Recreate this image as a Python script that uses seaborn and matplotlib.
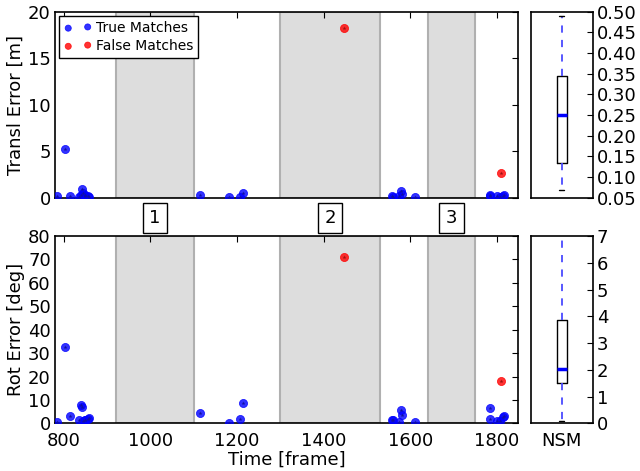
import numpy as np
import pandas as pd
import matplotlib
matplotlib.use("Agg")
import matplotlib.pyplot as plt
import matplotlib.transforms as mtrans
import seaborn as sns

sns.set_style("white")
plt.rcParams['font.family'] = ['DejaVu Sans']
plt.rcParams['text.color'] = 'black'
plt.rcParams['axes.labelcolor'] = 'black'
plt.rcParams['xtick.color'] = 'black'
plt.rcParams['ytick.color'] = 'black'

# true matches: frame, translation error [m], rotation error [deg]
true_time = [785, 802, 815, 835, 840, 843, 845, 848, 850, 855, 858,
             1115, 1181, 1208, 1213,
             1557, 1561, 1575, 1579, 1580, 1611,
             1783, 1785, 1800, 1807, 1814, 1817]
true_transl = [0.2, 5.2, 0.15, 0.1, 0.3, 0.93, 0.55, 0.2, 0.35, 0.15, 0.1,
               0.25, 0.1, 0.05, 0.47,
               0.15, 0.1, 0.2, 0.75, 0.4, 0.1,
               0.15, 0.3, 0.15, 0.1, 0.2, 0.25]
true_rot = [0.4, 32.7, 3.1, 1.4, 7.9, 6.8, 1.0, 1.3, 1.5, 1.8, 2.3,
            4.5, 0.1, 1.7, 8.8,
            1.4, 1.6, 0.7, 5.7, 3.6, 0.7,
            1.8, 6.4, 1.1, 1.1, 2.8, 3.2]

# false matches
false_time = [1448, 1810]
false_transl = [18.3, 2.7]
false_rot = [71.2, 18.2]

# gray segments and their labels
seg_start = [920, 1300, 1640]
seg_end = [1100, 1530, 1750]
seg_labels = ["1", "2", "3"]

# NSM box summaries (translation, rotation)
nsm_transl = dict(whislo=0.07, q1=0.135, med=0.25, q3=0.345, whishi=0.49)
nsm_rot = dict(whislo=0.1, q1=1.5, med=2.05, q3=3.85, whishi=7.4)

df_true = pd.DataFrame({"time": true_time, "transl": true_transl, "rot": true_rot})
df_false = pd.DataFrame({"time": false_time, "transl": false_transl, "rot": false_rot})

fig = plt.figure(figsize=(6.4, 4.71), dpi=100)
ax1 = fig.add_axes([0.086, 0.580, 0.723, 0.395])
ax2 = fig.add_axes([0.086, 0.101, 0.723, 0.398])
bx1 = fig.add_axes([0.830, 0.580, 0.096, 0.395])
bx2 = fig.add_axes([0.830, 0.101, 0.096, 0.398])

fs = 13


def draw_scatter(ax, col, ylim, yticks, legend=False):
    for s, e in zip(seg_start, seg_end):
        ax.axvspan(s, e, facecolor="#dddddd", edgecolor="#b0b0b0", lw=1.5, zorder=0)
    sns.scatterplot(data=df_true, x="time", y=col, ax=ax, color="blue", s=34,
                    alpha=0.8, edgecolor="blue", linewidth=0.6,
                    label="True Matches" if legend else None, zorder=3)
    sns.scatterplot(data=df_false, x="time", y=col, ax=ax, color="red", s=34,
                    alpha=0.8, edgecolor="red", linewidth=0.6,
                    label="False Matches" if legend else None, zorder=3)
    sns.scatterplot(data=df_true, x="time", y=col, ax=ax, color="#1010a0", marker="*",
                    s=9, linewidth=0, legend=False, zorder=4)
    sns.scatterplot(data=df_false, x="time", y=col, ax=ax, color="#a01010", marker="*",
                    s=9, linewidth=0, legend=False, zorder=4)
    ax.set_xlim(780, 1848)
    ax.set_ylim(*ylim)
    ax.set_yticks(yticks)
    ax.set_xticks([800, 1000, 1200, 1400, 1600, 1800])
    ax.tick_params(direction="in", top=True, right=True, labelsize=fs,
                   length=4, width=0.8, pad=3)
    ax.tick_params(axis="x", pad=6)
    for sp in ax.spines.values():
        sp.set_color("black")
        sp.set_linewidth(1.2)


draw_scatter(ax1, "transl", (0, 20), [0, 5, 10, 15, 20], legend=True)
draw_scatter(ax2, "rot", (0, 80), range(0, 81, 10))

ax1.set_xlabel("")
ax1.set_xticklabels([])
ax1.set_ylabel("Transl Error [m]", fontsize=fs, labelpad=2)
ax2.set_ylabel("Rot Error [deg]", fontsize=fs, labelpad=2)
ax2.set_xlabel("Time [frame]", fontsize=fs, labelpad=1)

leg = ax1.legend(loc="upper left", fontsize=10, frameon=True, fancybox=False,
                 scatterpoints=2, handletextpad=0.3, borderpad=0.35,
                 labelspacing=0.3, borderaxespad=0.3, markerscale=0.75)
leg.get_frame().set_edgecolor("black")
leg.get_frame().set_linewidth(1.0)
leg.get_frame().set_alpha(1)

trans = mtrans.blended_transform_factory(ax1.transData, fig.transFigure)
for s, e, lab in zip(seg_start, seg_end, seg_labels):
    ax1.text((s + e) / 2, 1 - 218 / 471, lab, transform=trans, ha="center", va="center",
             fontsize=fs, clip_on=False,
             bbox=dict(boxstyle="square,pad=0.35", facecolor="white", edgecolor="black", lw=1.0))


def draw_box(ax, stats, ylim, yticks, fmt, label):
    st = dict(stats)
    st["fliers"] = []
    st["label"] = label
    ax.bxp([st], positions=[1], widths=0.17, showfliers=False,
           boxprops=dict(color="black", lw=1.0),
           medianprops=dict(color="blue", lw=2.5),
           whiskerprops=dict(color="#4a4aff", lw=1.3, linestyle=(0, (4, 4))),
           capprops=dict(color="black", lw=1.0), capwidths=0.08)
    ax.set_xlim(0.5, 1.5)
    ax.set_ylim(*ylim)
    ax.set_yticks(yticks)
    ax.set_yticklabels([fmt.format(v) for v in yticks])
    ax.yaxis.tick_right()
    ax.tick_params(axis="y", direction="in", left=False, right=True, labelsize=fs,
                   length=4, width=0.8, pad=3)
    ax.tick_params(axis="x", length=0, labelsize=fs, pad=6)
    for sp in ax.spines.values():
        sp.set_color("black")
        sp.set_linewidth(1.2)


draw_box(bx1, nsm_transl, (0.05, 0.50), np.arange(0.05, 0.501, 0.05).round(2), "{:.2f}", "")
draw_box(bx2, nsm_rot, (0, 7), list(range(0, 8)), "{:d}", "NSM")
bx1.set_xticks([])

fig.savefig("out.png", dpi=100)
